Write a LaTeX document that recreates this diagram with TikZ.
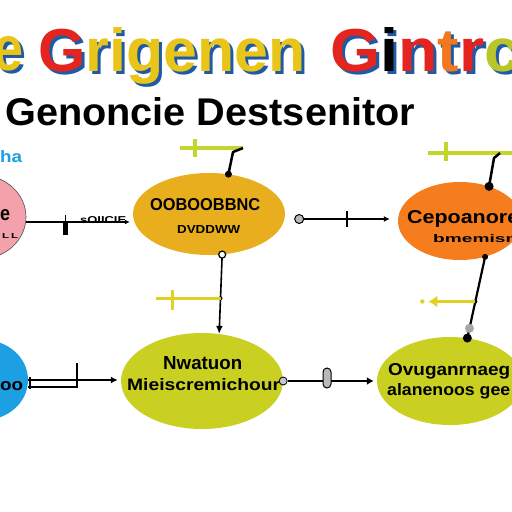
\documentclass[tikz,border=0pt]{standalone}
\usepackage{fontspec}
\setmainfont{Liberation Sans}
\usetikzlibrary{shapes.geometric,arrows.meta}
\definecolor{pinkc}{HTML}{F3A2AC}
\definecolor{goldc}{HTML}{E8AE1E}
\definecolor{orangec}{HTML}{F57D1E}
\definecolor{bluec}{HTML}{1C9FE3}
\definecolor{limec}{HTML}{CAD021}
\definecolor{greenline}{HTML}{C3D62C}
\definecolor{yelline}{HTML}{E2CF20}
\definecolor{redt}{HTML}{E3241F}
\definecolor{yelt}{HTML}{E9C419}
\definecolor{bluet}{HTML}{1E5AA6}
\definecolor{oranget}{HTML}{F2781E}
\definecolor{limet}{HTML}{B9C62A}
\newcommand{\rsz}[3]{\resizebox{#1pt}{#2pt}{\bfseries #3}}
\newcommand{\shd}[4]{\rlap{\kern3pt\raisebox{-3pt}{\color{bluet}\rsz{#1}{#2}{#4}}}\rsz{#1}{#2}{#3}}
\tikzset{
  bubble/.style={ellipse, inner sep=0pt},
  lbl/.style={inner sep=0pt, anchor=base west},
  conn/.style={line width=1.6pt, black},
  gbar/.style={line width=3.5pt, greenline},
  ybar/.style={line width=3pt, yelline},
}
\begin{document}
\begin{tikzpicture}[x=1pt,y=-1pt]
\useasboundingbox (0,0) rectangle (512,512);
\fill[white] (0,0) rectangle (512,512);

% ---- titles
\node[inner sep=0pt, anchor=base east] (t0) at (24,70) {\shd{30}{34}{\color{yelt}e}{e}};
\node[lbl] (t1) at (38,71) {\shd{267}{44}{\color{redt}G\color{yelt}rigenen}{Grigenen}};
\node[lbl] (t2) at (330,71) {\shd{190}{44}{\color{redt}G\color{black}i\color{redt}n\color{oranget}t\color{redt}r\color{limet}c}{Gintrc}};
\node[lbl] (t3) at (5,125) {\rsz{410}{28}{Genoncie Destsenitor}};
\node[lbl, text=bluec] (tb) at (0,162) {\rsz{22}{12}{ha}};

% ---- bubbles
\node[bubble, fill=pinkc, draw=black!70, line width=0.6pt, minimum width=92pt, minimum height=84pt] (pink) at (-20,217) {};
\node[bubble, fill=goldc, minimum width=152pt, minimum height=82pt] (gold) at (209,214) {};
\node[bubble, fill=orangec, minimum width=124pt, minimum height=78pt] (orange) at (460,221) {};
\node[bubble, fill=bluec, minimum width=88pt, minimum height=80pt] (blue) at (-16,380) {};
\node[bubble, fill=limec, minimum width=162pt, minimum height=96pt] (mid) at (202,381) {};
\node[bubble, fill=limec, minimum width=146pt, minimum height=88pt] (right) at (450,381) {};

% ---- bubble texts
\node[lbl] (pt1) at (0,220) {\rsz{10}{11}{e}};
\node[lbl] (pt2) at (2,238) {\rsz{16}{5}{L\,L}};
\node[lbl] (gt1) at (150,210) {\rsz{110}{12}{OOBOOBBNC}};
\node[lbl] (gt2) at (177,233) {\rsz{63}{8}{DVDDWW}};
\node[lbl] (ot1) at (407,223) {\rsz{112}{13}{Cepoanore}};
\node[lbl] (ot2) at (433,242) {\rsz{84}{8}{bmemisn}};
\node[lbl] (bt1) at (0,390) {\rsz{23}{9}{oo}};
\node[lbl] (mt1) at (163,369) {\rsz{79}{13}{Nwatuon}};
\node[lbl] (mt2) at (127,390) {\rsz{153}{12}{Mieiscremichour}};
\node[lbl] (rt1) at (388,375) {\rsz{122}{12}{Ovuganrnaeg}};
\node[lbl] (rt2) at (387,395) {\rsz{123}{12}{alanenoos gee}};

% ---- pink -> gold
\coordinate (pe) at ([yshift=-5pt]pink.east);
\draw[conn, -{Latex[length=5pt,width=5pt]}, shorten >=3pt] (pe) -- (pe -| gold.west);
\draw[line width=0.6pt] (65,215) -- (65,224);
\fill (63,223) rectangle (68,235);
\node[lbl] (ct) at (80,223) {\rsz{46}{7}{sOIICIE}};

% ---- gold -> orange
\node[circle, fill=gray!55, draw=black, line width=1pt, minimum size=9pt, inner sep=0pt] (gc) at ([xshift=14pt,yshift=-5pt]gold.east) {};
\draw[conn, -{Latex[length=6pt,width=6pt]}, shorten >=8pt] (gc.east) -- (gc -| orange.west);
\draw[line width=2.5pt] (347,211) -- (347,227);

% ---- gold top bar
\coordinate (gb) at (243,148);
\draw[gbar] (180,148) -- (gb);
\draw[gbar] (195,139) -- (195,157);
\draw[line width=2.5pt, black, line join=round] (gb) -- (233,152) -- (gold.64);
\fill (gold.64) circle (3.5);

% ---- gold -> mid
\draw[conn, -{Latex[length=8pt,width=7pt]}] (gold.-72) -- (mid.70);
\draw[line width=1.2pt, fill=white] (gold.-72) circle (3.5);
\path (gold.-72) -- (mid.70) coordinate[pos=0.55] (gm);
\fill (gm) circle (2);
\draw[ybar] (gm) -- ++(-65,0);
\draw[ybar] (172,290) -- (172,310);

% ---- orange top bar
\coordinate (ob) at (500,153);
\draw[gbar] (428,153) -- (512,153);
\draw[gbar] (446,142) -- (446,161);
\draw[line width=2.5pt, black, line join=round] (ob) -- (494,158) -- (orange.50);
\fill (orange.50) circle (4.5);

% ---- orange -> right
\draw[line width=2.2pt] (orange.-55) -- (right.68);
\fill (orange.-55) circle (3);
\path (orange.-55) -- (right.68) coordinate[pos=0.55] (ro) coordinate[pos=0.88] (rb);
\fill (ro) circle (2);
\draw[ybar, -{Latex[length=9pt,width=12pt]}] (ro) -- ++(-47,0);
\fill[yelline] ([xshift=-53pt]ro) circle (2.2);
\fill[gray!70] (rb) circle (4.5);
\fill (right.68) circle (4.5);

% ---- blue -> mid
\coordinate (bt) at (77,380);
\draw[conn] (blue.east) -- (bt);
\draw[conn] ([yshift=-7pt]blue.east) -- ([yshift=-7pt]bt);
\draw[conn] (30,377) -- (30,389);
\draw[conn] (77,363) -- (77,388);
\draw[conn, -{Latex[length=7pt,width=7pt]}, shorten >=3pt] (bt) -- (bt -| mid.west);

% ---- mid -> right
\node[circle, fill=gray!45, draw=black, line width=0.8pt, minimum size=8pt, inner sep=0pt] (mc) at (mid.east) {};
\draw[conn, -{Latex[length=7pt,width=8pt]}, shorten >=3pt] (mc.east) -- (mc -| right.west);
\node[draw=black, fill=gray!55, line width=1pt, rounded corners=4pt, minimum width=8pt, minimum height=20pt, inner sep=0pt] (cap) at (327,378) {};
\end{tikzpicture}
\end{document}
